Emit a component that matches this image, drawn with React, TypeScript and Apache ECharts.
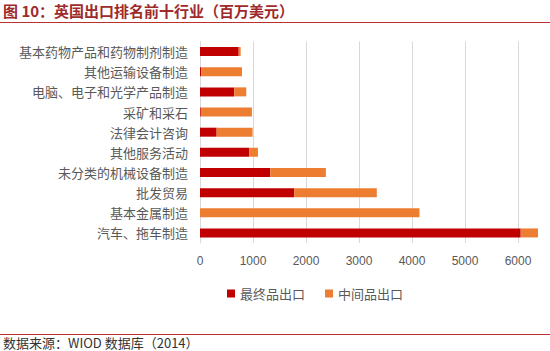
import React, { useEffect, useRef } from "react";
import * as echarts from "echarts";

const categories = [
  "基本药物产品和药物制剂制造",
  "其他运输设备制造",
  "电脑、电子和光学产品制造",
  "采矿和采石",
  "法律会计咨询",
  "其他服务活动",
  "未分类的机械设备制造",
  "批发贸易",
  "基本金属制造",
  "汽车、拖车制造",
];
const finalExports = [730, 25, 647, 15, 314, 930, 1325, 1778, 0, 6051];
const intermediateExports = [37, 767, 226, 965, 679, 163, 1050, 1558, 4141, 326];
const seriesNames = ["最终品出口", "中间品出口"];
const xTicks = [0, 1000, 2000, 3000, 4000, 5000, 6000];

const CJK = '"Noto Sans CJK SC", "Noto Sans", sans-serif';

export default function App() {
  const ref = useRef<HTMLDivElement>(null);
  useEffect(() => {
    if (!ref.current) return;
    const chart = echarts.init(ref.current, null, { renderer: "svg" });
    chart.setOption({
      animation: false,
      backgroundColor: "#ffffff",
      grid: { left: 200, right: 32, top: 41.5, height: 201.5, containLabel: false },
      legend: {
        data: seriesNames,
        top: 282,
        left: 222,
        itemWidth: 8,
        itemHeight: 8,
        itemGap: 20,
        icon: "rect",
        textStyle: { color: "#595959", fontSize: 13, fontFamily: CJK },
      },
      xAxis: {
        type: "value",
        min: xTicks[0],
        max: xTicks[xTicks.length - 1],
        interval: 1000,
        axisLine: { show: false },
        axisTick: { show: false },
        splitLine: { lineStyle: { color: "#d9d9d9", width: 1 } },
        axisLabel: {
          color: "#595959",
          fontSize: 12,
          margin: 12,
          fontFamily: "Liberation Sans, sans-serif",
          formatter: (v: number) => String(v),
        },
      },
      yAxis: {
        type: "category",
        data: categories,
        inverse: true,
        axisLine: { show: true, lineStyle: { color: "#d9d9d9" } },
        axisTick: { show: false },
        axisLabel: { color: "#595959", fontSize: 13, margin: 12, fontFamily: CJK },
      },
      series: [
        {
          name: seriesNames[0],
          type: "bar",
          stack: "total",
          data: finalExports,
          barWidth: 9,
          clip: false,
          itemStyle: { color: "#C00000" },
        },
        {
          name: seriesNames[1],
          type: "bar",
          stack: "total",
          data: intermediateExports,
          barWidth: 9,
          clip: false,
          itemStyle: { color: "#ED7D31" },
        },
      ],
      graphic: [
        {
          type: "text",
          left: 3,
          top: 3,
          style: {
            text: "图 10：英国出口排名前十行业（百万美元）",
            fill: "#9E2A2B",
            fontSize: 15,
            fontWeight: "bold",
            fontFamily: CJK,
          },
        },
        {
          type: "line",
          shape: { x1: 0, y1: 22.5, x2: 550, y2: 22.5 },
          style: { stroke: "#B8312F", lineWidth: 1 },
        },
        {
          type: "line",
          shape: { x1: 0, y1: 334.5, x2: 550, y2: 334.5 },
          style: { stroke: "#B8312F", lineWidth: 1 },
        },
        {
          type: "text",
          left: 3,
          top: 336,
          style: {
            text: "数据来源：WIOD 数据库（2014）",
            fill: "#333333",
            fontSize: 13,
            fontFamily: CJK,
          },
        },
      ],
    });
    return () => chart.dispose();
  }, []);
  return (
    <div
      ref={ref}
      style={{ position: "fixed", left: 0, top: 0, width: 550, height: 351 }}
    />
  );
}
